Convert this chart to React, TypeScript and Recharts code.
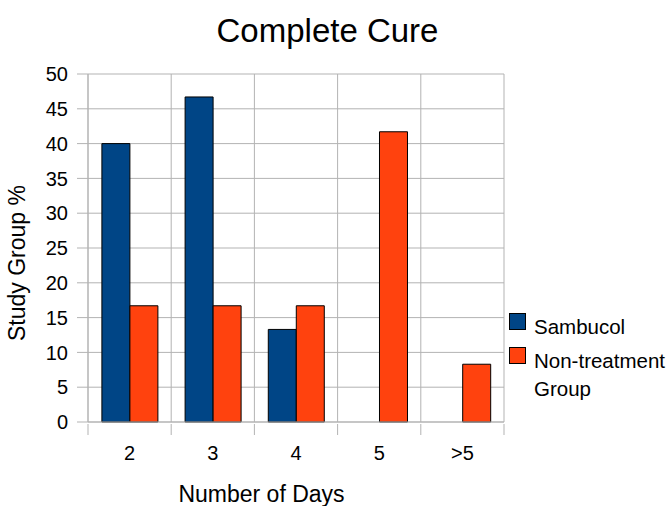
import { BarChart, Bar, XAxis, YAxis, CartesianGrid, Legend } from 'recharts';

const days = ['2', '3', '4', '5', '>5'];
const sambucol = [40, 46.7, 13.3, 0, 0];
const nonTreatment = [16.7, 16.7, 16.7, 41.7, 8.3];
const yTicks = [0, 5, 10, 15, 20, 25, 30, 35, 40, 45, 50];
const seriesOrder = ['sambucol', 'nonTreatment'];

const data = days.map((day, i) => ({
  day,
  sambucol: sambucol[i],
  nonTreatment: nonTreatment[i],
}));

const FONT = '"Liberation Sans", Arial, sans-serif';
const GRID = '#b3b3b3';

// vertical grid lines sit on the category boundaries, not the centres
const edgeLines = ({ offset }: any) =>
  Array.from({ length: days.length + 1 }, (_, i) => offset.left + (offset.width * i) / days.length);

function DayTick({ x, y, payload, index }: any) {
  const half = payload?.offset || 41.6;
  return (
    <g>
      <line x1={x - half} y1={y} x2={x - half} y2={y + 11} stroke={GRID} />
      {index === days.length - 1 && <line x1={x + half} y1={y} x2={x + half} y2={y + 11} stroke={GRID} />}
      <text x={x} y={y + 36} textAnchor="middle" fontSize={20} fontFamily={FONT} fill="#000">
        {payload.value}
      </text>
    </g>
  );
}

function LegendBox({ payload }: any) {
  const items = [...(payload || [])].sort(
    (a: any, b: any) => seriesOrder.indexOf(a.dataKey) - seriesOrder.indexOf(b.dataKey)
  );
  return (
    <svg width={160} height={90} style={{ overflow: 'visible', display: 'block' }}>
      {items.map((item: any, i: number) => {
        const top = i * 34;
        const name: string = item.value;
        const cut = name.lastIndexOf(' ');
        const lines = cut > 0 ? [name.slice(0, cut), name.slice(cut + 1)] : [name];
        return (
          <g key={name}>
            <rect x={0.5} y={top + 0.5} width={16} height={16} fill={item.color} stroke="#000" strokeWidth={1} />
            {lines.map((line, j) => (
              <text key={line} x={25} y={top + 20.5 + j * 28.5} fontSize={20.5} fontFamily={FONT} fill="#000">
                {line}
              </text>
            ))}
          </g>
        );
      })}
    </svg>
  );
}

export default function App() {
  return (
    <div style={{ position: 'absolute', left: 0, top: 0, width: 671, height: 506, background: '#fff' }}>
      <BarChart
        width={671}
        height={506}
        data={data}
        margin={{ top: 74, right: 167, bottom: 83, left: 28 }}
        barCategoryGap="16.7%"
        barGap={0}
      >
        <XAxis
          dataKey="day"
          height={1}
          interval={0}
          axisLine={{ stroke: GRID }}
          tickLine={false}
          tickSize={0}
          tick={<DayTick />}
        />
        <YAxis
          width={60}
          domain={[0, 50]}
          ticks={yTicks}
          interval={0}
          tickSize={11}
          tickMargin={9}
          tickLine={{ stroke: GRID }}
          axisLine={{ stroke: GRID }}
          tick={{ fill: '#000', fontSize: 20, fontFamily: FONT }}
        />
        <CartesianGrid stroke={GRID} strokeWidth={1} verticalCoordinatesGenerator={edgeLines} />
        <Legend
          layout="vertical"
          align="center"
          verticalAlign="middle"
          content={<LegendBox />}
          wrapperStyle={{ position: 'absolute', left: 509, top: 313, width: 160, height: 90 }}
        />
        <Bar dataKey="sambucol" name="Sambucol" fill="#004586" stroke="#000" strokeWidth={1} isAnimationActive={false} />
        <Bar dataKey="nonTreatment" name="Non-treatment Group" fill="#ff420e" stroke="#000" strokeWidth={1} isAnimationActive={false} />
      </BarChart>
      <svg width={671} height={506} style={{ position: 'absolute', left: 0, top: 0, pointerEvents: 'none' }}>
        <text x={327.5} y={42} textAnchor="middle" fontSize={33} fontFamily={FONT} fill="#000">
          Complete Cure
        </text>
        <text x={261.5} y={502} textAnchor="middle" fontSize={23} fontFamily={FONT} fill="#000">
          Number of Days
        </text>
        <text x={25} y={263} textAnchor="middle" fontSize={23} fontFamily={FONT} fill="#000" transform="rotate(-90 25 263)">
          Study Group %
        </text>
      </svg>
    </div>
  );
}
